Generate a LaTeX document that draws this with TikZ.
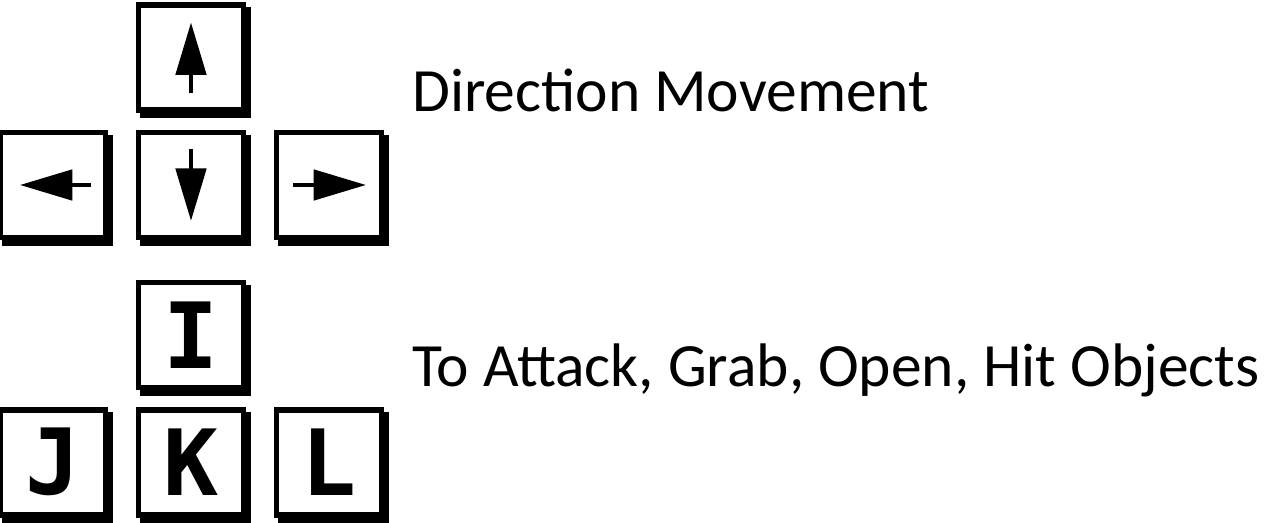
\documentclass[tikz,border=0pt]{standalone}
\usepackage{fontspec}
\setmainfont{Carlito}
\newfontfamily\keyfont{DejaVu Sans Mono}
\usepackage{tikz}
\usetikzlibrary{arrows.meta, positioning, shadows}

\begin{document}
\begin{tikzpicture}[
      node distance = 0.34cm and 0.55cm,
      keybox/.style = {
        rectangle, draw=black, fill=white, line width=3.2pt,
        minimum width=2.1cm, minimum height=2.1cm, inner sep=0pt,
        font=\keyfont\bfseries\fontsize{52}{52}\selectfont,
        copy shadow={shadow xshift=2.5pt, shadow yshift=-3pt, fill=black, draw=black}
      },
      keyarr/.style = {-{Triangle[length=1.05cm,width=0.6cm]}, line width=2.8pt, color=black},
      caption/.style = {anchor=west, font=\fontsize{35}{42}\selectfont, inner sep=0pt}
    ]
      \useasboundingbox (0,0) rectangle (25.34,10.46);

      % ===================== Arrow keys =====================
      \node[keybox] (down)  at (3.82,6.76) {};
      \node[keybox, above=of down] (up) {};
      \node[keybox, left=of down]  (left) {};
      \node[keybox, right=of down] (right) {};

      \draw[keyarr] ([yshift=-0.72cm]up.center) -- ([yshift=0.70cm]up.center);
      \draw[keyarr] ([yshift=0.72cm]down.center) -- ([yshift=-0.72cm]down.center);
      \draw[keyarr] ([xshift=0.76cm]left.center) -- ([xshift=-0.66cm]left.center);
      \draw[keyarr] ([xshift=-0.72cm]right.center) -- ([xshift=0.74cm]right.center);

      % ===================== Action keys =====================
      \node[keybox, below=0.79cm of down] (ikey) {I};
      \node[keybox, below=0.33cm of ikey] (kkey) {K};
      \node[keybox, left=of kkey]  (jkey) {J};
      \node[keybox, right=of kkey] (lkey) {L};

      % ===================== Captions =====================
      \node[caption] (movetxt) at (8.24,8.66) {Direction Movement};
      \node[caption] (acttxt)  at (8.24,3.06) {To Attack, Grab, Open, Hit Objects};

    \end{tikzpicture}
\end{document}
